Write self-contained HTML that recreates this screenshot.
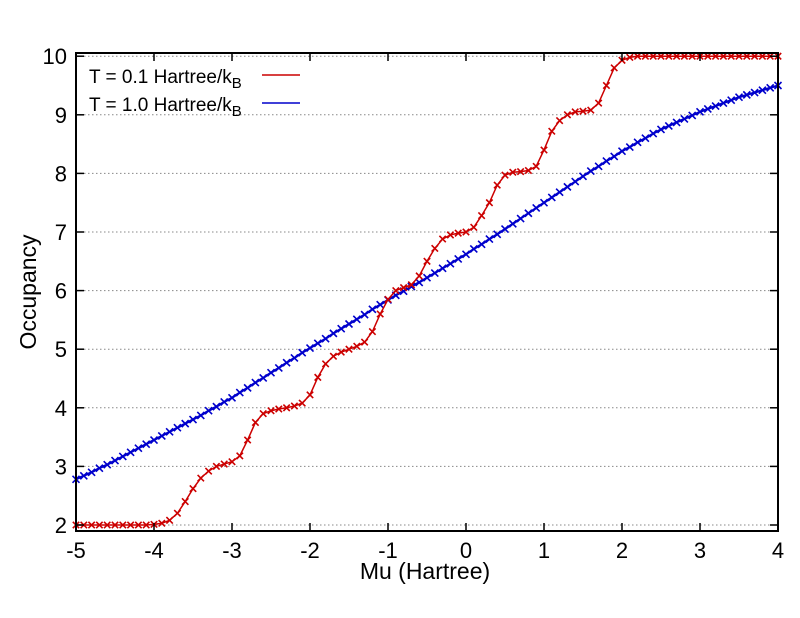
<!DOCTYPE html>
<html><head><meta charset="utf-8"><style>
body{margin:0;background:#fff}
svg{display:block;font-family:"Liberation Sans",sans-serif}
</style></head><body>
<svg id="chart" width="800" height="618">
<g id="grid"></g>
<g id="series"></g>
<rect x="76" y="53" width="702" height="478" fill="none" stroke="#000" stroke-width="2"/>
<g id="axes"></g>
<text x="425" y="579" font-size="23" text-anchor="middle">Mu (Hartree)</text>
<text x="36" y="292" font-size="23" text-anchor="middle" transform="rotate(-90 36 292)">Occupancy</text>
<g>
<g>
<text x="89" y="83" font-size="19">T = 0.1 Hartree/k<tspan font-size="15" dy="5">B</tspan></text>
<line x1="262" y1="75" x2="300" y2="75" stroke="#cc0000" stroke-width="1.5"/></g>
<g>
<text x="89" y="111" font-size="19">T = 1.0 Hartree/k<tspan font-size="15" dy="5">B</tspan></text>
<line x1="262" y1="103" x2="300" y2="103" stroke="#0000cc" stroke-width="1.5"/></g>
</g>
</svg>
<script>
const xStart=-5, xStep=0.1;
const xTicks=[-5,-4,-3,-2,-1,0,1,2,3,4];
const yTicks=[2,3,4,5,6,7,8,9,10];
const redValues=[2,2,2,2,2,2,2,2,2,2,2.01,2.03,2.08,2.2,2.4,2.62,2.8,2.92,3.0,3.04,3.08,3.18,3.45,3.75,3.9,3.95,3.98,4.0,4.03,4.08,4.22,4.52,4.75,4.88,4.95,5.0,5.05,5.12,5.3,5.6,5.85,6.0,6.05,6.1,6.25,6.5,6.72,6.88,6.95,6.98,7.0,7.08,7.28,7.5,7.8,7.97,8.02,8.03,8.05,8.12,8.4,8.72,8.9,9.0,9.05,9.06,9.08,9.2,9.5,9.8,9.93,9.98,10,10,10,10,10,10,10,10,10,10,10,10,10,10,10,10,10,10,10];
const blueValues=[2.78,2.84,2.90,2.97,3.03,3.10,3.17,3.24,3.31,3.38,3.45,3.52,3.59,3.66,3.73,3.80,3.87,3.95,4.02,4.10,4.17,4.26,4.34,4.43,4.51,4.60,4.68,4.77,4.85,4.94,5.02,5.10,5.18,5.27,5.35,5.43,5.51,5.59,5.68,5.76,5.84,5.92,5.99,6.07,6.14,6.22,6.30,6.38,6.46,6.54,6.62,6.71,6.79,6.88,6.96,7.05,7.14,7.23,7.32,7.41,7.50,7.59,7.68,7.77,7.86,7.95,8.04,8.12,8.21,8.29,8.38,8.45,8.53,8.60,8.68,8.75,8.81,8.87,8.93,8.99,9.05,9.10,9.15,9.20,9.25,9.30,9.34,9.38,9.42,9.46,9.50];
const NS='http://www.w3.org/2000/svg';
const X=v=>76+(v+5)*78;
const Y=v=>525-(v-2)*58.6;
function mk(tag,attrs,parent){const e=document.createElementNS(NS,tag);for(const k in attrs)e.setAttribute(k,attrs[k]);parent.appendChild(e);return e;}
const grid=document.getElementById('grid'),axes=document.getElementById('axes'),series=document.getElementById('series');
yTicks.forEach(t=>{
 const g=mk('line',{x1:76,x2:778,y1:Y(t),y2:Y(t),stroke:'#888','stroke-width':1,'stroke-dasharray':'1.5,2.5'},grid);
 
 
 mk('line',{x1:76,x2:84,y1:Y(t),y2:Y(t),stroke:'#000','stroke-width':1.5},axes);
 mk('line',{x1:770,x2:778,y1:Y(t),y2:Y(t),stroke:'#000','stroke-width':1.5},axes);
 const l=mk('text',{x:67,y:Y(t)+8,'font-size':22,'text-anchor':'end'},axes);
 l.textContent=t;
 
 
});
xTicks.forEach(t=>{
 mk('line',{x1:X(t),x2:X(t),y1:523,y2:531,stroke:'#000','stroke-width':1.5},axes);
 mk('line',{x1:X(t),x2:X(t),y1:53,y2:61,stroke:'#000','stroke-width':1.5},axes);
 const l=mk('text',{x:X(t),y:558,'font-size':22,'text-anchor':'middle'},axes);
 l.textContent=t;
 
 
});
function draw(vals,color,name,w,d){
 const pts=vals.map((v,i)=>[X(xStart+i*xStep),Y(v)]);
 const pl=mk('polyline',{points:pts.map(p=>p.join(',')).join(' '),fill:'none',stroke:color,'stroke-width':w},series);
 
 
 pts.forEach(p=>{
  const m=mk('path',{d:`M${p[0]-d},${p[1]-d}L${p[0]+d},${p[1]+d}M${p[0]-d},${p[1]+d}L${p[0]+d},${p[1]-d}`,stroke:color,'stroke-width':1.6},series);
  
  
 });
}
draw(blueValues,'#0000cc','t10-series',2.2,3.5);
draw(redValues,'#cc0000','t01-series',1.5,3.2);
</script>
</body></html>
